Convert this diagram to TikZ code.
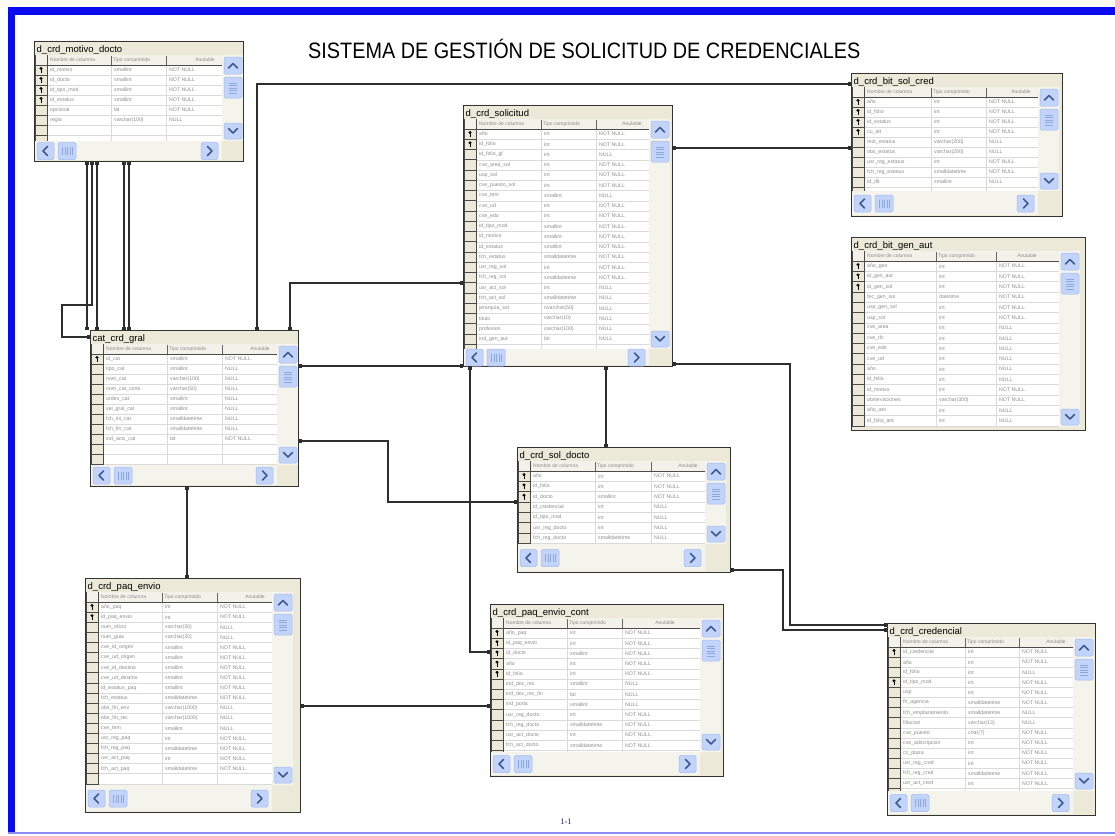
\documentclass[tikz,border=0pt]{standalone}
\usepackage{fontspec}
\setmainfont{Liberation Sans}
\newfontfamily\pagefont{Liberation Serif}
\usepackage{graphicx}
\usetikzlibrary{arrows.meta}
\definecolor{frameblue}{HTML}{0A0AF0}
\definecolor{lineblue}{HTML}{8A8AF5}
\definecolor{cream}{HTML}{FDFCF2}
\definecolor{tblbg}{HTML}{ECE9D8}
\definecolor{hdrfill}{HTML}{F3F2EA}
\definecolor{selfill}{HTML}{ECE9D8}
\definecolor{selcol}{HTML}{4A4A4A}
\definecolor{gridcol}{HTML}{DADADA}
\definecolor{celltxt}{HTML}{8C8C8C}
\definecolor{hdrtxt}{HTML}{8A8A8A}
\definecolor{trackfill}{HTML}{F4F3EC}
\definecolor{btnfill}{HTML}{C3D4FB}
\definecolor{btnline}{HTML}{A3BAEE}
\definecolor{chevcol}{HTML}{3F5A8E}
\definecolor{gripcol}{HTML}{8EA7DD}
\definecolor{conncol}{HTML}{2E2E2E}
\definecolor{pagenum}{HTML}{1C2470}
\tikzset{
 tblframe/.style={draw=black!80, line width=1pt, fill=tblbg, inner sep=0pt, outer sep=0pt},
 ttl/.style={font=\fontsize{9.5}{10}\selectfont, text=black, inner sep=0pt},
 cell/.style={font=\fontsize{5.2}{6}\selectfont, text=celltxt, inner sep=0pt},
 hdr/.style={font=\fontsize{5}{6}\selectfont, text=hdrtxt, inner sep=0pt},
 gridl/.style={draw=gridcol, line width=0.5pt},
 sell/.style={draw=selcol, line width=0.6pt},
 hdrsep/.style={draw=black!60, line width=0.6pt},
 hdrbot/.style={draw=black!70, line width=0.9pt},
 btn/.style={fill=btnfill, draw=btnline, line width=0.5pt, rounded corners=1.5pt},
 chev/.style={draw=chevcol, line width=1.6pt, line cap=round, line join=round},
 grip/.style={draw=gripcol, line width=0.5pt},
 conn/.style={draw=conncol, line width=1.2pt, {Square[length=3.5pt,width=4pt]}-{Square[length=3.5pt,width=4pt]}},
 connl/.style={draw=conncol, line width=1.2pt, {Square[length=3.5pt,width=4pt]}-},
}
\newcommand\keyicon[2]{%
 \fill[black] (#1,#2-1.6) ellipse (1.7 and 1.5);
 \fill[black] (#1-0.5,#2-1) rectangle (#1+0.5,#2+2.8);}
% #1 name, #2 x0, #3 y0, #4 W, #5 H, #6 grid bottom, #7 title, #8 hscroll
\newcommand\dbtable[8]{%
\begin{scope}[shift={(#2,#3)}]
 \node[tblframe, minimum width=#4pt, minimum height=#5pt, anchor=north west] (#1) at (0,0) {};
 \node[ttl, anchor=base west] (#1-title) at (2.5,11) {#7};
 \fill[white] (1,14) rectangle (\cC,#6);
 \begin{scope}
  \clip (1,14) rectangle (\cC,#6);
  \fill[hdrfill] (1,14) rectangle (\cC,24);
  \fill[selfill] (1,24) rectangle (13,#6);
  \pgfmathtruncatemacro\nall{(#6-24)/\rh+1}
  \foreach \j in {1,...,\nall}{
    \draw[gridl] (13,24+\j*\rh) -- (\cC,24+\j*\rh);
    \draw[sell] (1,24+\j*\rh) -- (13,24+\j*\rh);
  }
  \draw[gridl] (\cA,24) -- (\cA,#6) (\cB,24) -- (\cB,#6);
  \draw[sell] (13,14) -- (13,#6);
  \draw[selcol, line width=1pt] (1.5,14) -- (1.5,#6);
  \draw[hdrsep] (\cA,15) -- (\cA,24) (\cB,15) -- (\cB,24);
  \draw[hdrbot] (1,24) -- (\cC,24);
  \foreach \kk/\cn/\ct/\cu [count=\i from 0] in \tblrows {
    \pgfmathsetmacro\ym{24+(\i+0.5)*\rh}
    \node[cell, anchor=west] (#1-\i-n) at (16,\ym) {\cn};
    \node[cell, anchor=west] (#1-\i-t) at (\cA+3,\ym) {\ct};
    \node[cell, anchor=west] (#1-\i-u) at (\cB+3,\ym) {\cu};
    \ifnum\kk=1 \keyicon{7}{\ym}\fi
  }
 \end{scope}
 \node[hdr, anchor=west] (#1-h1) at (16,19) {Nombre de columna};
 \node[hdr, anchor=west] (#1-h2) at (\cA+2,19) {Tipo comprimido};
 \node[hdr] (#1-h3) at (\anx,19) {Anulable};
 \fill[trackfill] (\cC,14) rectangle (\cC+21,#6);
 \path[btn] (\cC+2,16) rectangle (\cC+20,33);
 \draw[chev] (\cC+6.5,27) -- (\cC+11,22.5) -- (\cC+15.5,27);
 \path[btn] (\cC+2,36) rectangle (\cC+20,57);
 \foreach \g in {42,44.5,47,49.5,52}{\draw[grip] (\cC+7,\g) -- (\cC+15,\g);}
 \path[btn] (\cC+2,#6-18) rectangle (\cC+20,#6-2);
 \draw[chev] (\cC+6.5,#6-12.5) -- (\cC+11,#6-8) -- (\cC+15.5,#6-12.5);
 \ifnum#8=1\relax
  \pgfmathsetmacro\hy{(#6+#5)/2}
  \fill[trackfill] (1,#6) rectangle (\cC,#5-1);
  \path[btn] (3,\hy-8.5) rectangle (20,\hy+8.5);
  \draw[chev] (13.5,\hy-4.5) -- (9,\hy) -- (13.5,\hy+4.5);
  \path[btn] (24,\hy-8.5) rectangle (42,\hy+8.5);
  \foreach \g in {28.5,31,33.5,36,38.5}{\draw[grip] (\g,\hy-4) -- (\g,\hy+4);}
  \path[btn] (\cC-21,\hy-8.5) rectangle (\cC-4,\hy+8.5);
  \draw[chev] (\cC-14.5,\hy-4.5) -- (\cC-10,\hy) -- (\cC-14.5,\hy+4.5);
 \fi
\end{scope}}
\begin{document}
\begin{tikzpicture}[x=1pt,y=-1pt]
\useasboundingbox (0,0) rectangle (1115,835);
\fill[white] (0,0) rectangle (1115,835);
\fill[cream] (0,0) rectangle (1115,7);
\fill[frameblue] (8,7) rectangle (1115,15);
\fill[frameblue] (8,7) rectangle (15,832);
\fill[lineblue] (8,832) rectangle (1115,834);

\node[anchor=base west, inner sep=0pt] (title) at (308,58)
 {\resizebox{552pt}{\height}{\fontsize{22.3}{24}\selectfont SISTEMA DE GESTIÓN DE SOLICITUD DE CREDENCIALES}};
\node[inner sep=0pt, text=pagenum, font=\pagefont\fontsize{8.5}{9}\selectfont] (pagelbl) at (566,822) {1-1};

% d_crd_motivo_docto
\def\cA{77}\def\cB{132}\def\cC{188}\def\rh{10}\def\anx{\cC-17}
\def\tblrows{1/id\_motivo/smallint/NOT NULL, 1/id\_docto/smallint/NOT NULL, 1/id\_tipo\_mod/smallint/NOT NULL, 1/id\_estatus/smallint/NOT NULL, 0/opcional/bit/NOT NULL, 0/regla/varchar(100)/NULL}
\dbtable{md}{34}{41}{209}{120}{100}{d\_crd\_motivo\_docto}{1}

% d_crd_solicitud
\def\cA{78}\def\cB{133}\def\cC{186}\def\rh{10.25}\def\anx{\cC-17}
\def\tblrows{1/año/int/NOT NULL, 1/id\_folio/int/NOT NULL, 0/id\_folio\_gf/int/NULL, 0/cve\_area\_sol/int/NOT NULL, 0/usp\_sol/int/NOT NULL, 0/cve\_puesto\_sol/int/NOT NULL, 0/cve\_tem/smallint/NULL, 0/cve\_ud/int/NOT NULL, 0/cve\_edo/int/NOT NULL, 0/id\_tipo\_mod/smallint/NOT NULL, 0/id\_motivo/smallint/NOT NULL, 0/id\_estatus/smallint/NOT NULL, 0/fch\_estatus/smalldatetime/NOT NULL, 0/usr\_reg\_sol/int/NOT NULL, 0/fch\_reg\_sol/smalldatetime/NOT NULL, 0/usr\_act\_sol/int/NULL, 0/fch\_act\_sol/smalldatetime/NULL, 0/jerarquia\_sol/nvarchar(50)/NULL, 0/titulo/varchar(10)/NULL, 0/profesion/varchar(100)/NULL, 0/ind\_gen\_aut/bit/NULL}
\dbtable{sol}{463}{105}{209}{261}{244}{d\_crd\_solicitud}{1}

% d_crd_bit_sol_cred
\def\cA{80}\def\cB{135}\def\cC{187}\def\rh{10}\def\anx{\cC-17}
\def\tblrows{1/año/int/NOT NULL, 1/id\_folio/int/NOT NULL, 1/id\_estatus/int/NOT NULL, 1/cu\_ett/int/NOT NULL, 0/mot\_estatus/varchar(200)/NULL, 0/obs\_estatus/varchar(200)/NULL, 0/usr\_reg\_estatus/int/NOT NULL, 0/fch\_reg\_estatus/smalldatetime/NOT NULL, 0/id\_dlt/smallint/NULL}
\dbtable{bsc}{851}{73}{211}{143}{118}{d\_crd\_bit\_sol\_cred}{1}

% d_crd_bit_gen_aut
\def\cA{85}\def\cB{145}\def\cC{208}\def\rh{10.3}\def\anx{176}
\def\tblrows{1/año\_gen/int/NOT NULL, 1/id\_gen\_aut/int/NOT NULL, 1/id\_gen\_sol/int/NOT NULL, 0/fec\_gen\_sol/datetime/NOT NULL, 0/usp\_gen\_sol/int/NOT NULL, 0/usp\_sol/int/NOT NULL, 0/cve\_area/int/NULL, 0/cve\_rfc/int/NULL, 0/cve\_edo/int/NULL, 0/cve\_ud/int/NULL, 0/año/int/NULL, 0/id\_folio/int/NULL, 0/id\_motivo/int/NOT NULL, 0/observaciones/varchar(300)/NOT NULL, 0/año\_ant/int/NULL, 0/id\_folio\_ant/int/NULL}
\dbtable{bga}{851}{237}{234}{193}{190}{d\_crd\_bit\_gen\_aut}{0}

% cat_crd_gral
\def\cA{77}\def\cB{132}\def\cC{187}\def\rh{10}\def\anx{\cC-17}
\def\tblrows{1/id\_cat/smallint/NOT NULL, 0/tipo\_cat/smallint/NULL, 0/nom\_cat/varchar(100)/NULL, 0/nom\_cat\_corto/varchar(50)/NULL, 0/orden\_cat/smallint/NULL, 0/sel\_gral\_cat/smallint/NULL, 0/fch\_ini\_cat/smalldatetime/NULL, 0/fch\_fin\_cat/smalldatetime/NULL, 0/ind\_actv\_cat/bit/NOT NULL}
\dbtable{cat}{90}{330}{208}{156}{135}{cat\_crd\_gral}{1}

% d_crd_sol_docto
\def\cA{78}\def\cB{134}\def\cC{188}\def\rh{10.3}\def\anx{\cC-17}
\def\tblrows{1/año/int/NOT NULL, 1/id\_folio/int/NOT NULL, 1/id\_docto/smallint/NOT NULL, 0/id\_credencial/int/NULL, 0/id\_tipo\_mod/int/NULL, 0/usr\_reg\_docto/int/NULL, 0/fch\_reg\_docto/smalldatetime/NULL}
\dbtable{sd}{517}{447}{213}{125}{97}{d\_crd\_sol\_docto}{1}

% d_crd_paq_envio
\def\cA{77}\def\cB{132}\def\cC{187}\def\rh{10.1}\def\anx{\cC-17}
\def\tblrows{1/año\_paq/int/NOT NULL, 1/id\_paq\_envio/int/NOT NULL, 0/num\_oficio/varchar(30)/NULL, 0/num\_guia/varchar(30)/NULL, 0/cve\_id\_origen/smallint/NOT NULL, 0/cve\_ud\_origen/smallint/NOT NULL, 0/cve\_id\_destino/smallint/NOT NULL, 0/cve\_ud\_destino/smallint/NOT NULL, 0/id\_estatus\_paq/smallint/NOT NULL, 0/fch\_estatus/smalldatetime/NOT NULL, 0/obs\_fin\_env/varchar(1000)/NULL, 0/obs\_fin\_rec/varchar(1000)/NULL, 0/cve\_tem/smallint/NULL, 0/usr\_reg\_paq/int/NOT NULL, 0/fch\_reg\_paq/smalldatetime/NOT NULL, 0/usr\_act\_paq/int/NOT NULL, 0/fch\_act\_paq/smalldatetime/NOT NULL}
\dbtable{pe}{85}{578}{215}{234}{207}{d\_crd\_paq\_envio}{1}

% d_crd_paq_envio_cont
\def\cA{77}\def\cB{132}\def\cC{210}\def\rh{10.2}\def\anx{175}
\def\tblrows{1/año\_paq/int/NOT NULL, 1/id\_paq\_envio/int/NOT NULL, 1/id\_docto/smallint/NOT NULL, 1/año/int/NOT NULL, 1/id\_folio/int/NOT NULL, 0/ind\_doc\_rec/smallint/NULL, 0/ind\_doc\_rec\_fin/bit/NULL, 0/ind\_porta/smallint/NULL, 0/usr\_reg\_docto/int/NOT NULL, 0/fch\_reg\_docto/smalldatetime/NOT NULL, 0/usr\_act\_docto/int/NOT NULL, 0/fch\_act\_docto/smalldatetime/NOT NULL}
\dbtable{pec}{490}{604}{233}{172}{148}{d\_crd\_paq\_envio\_cont}{1}

% d_crd_credencial
\def\cA{78}\def\cB{132}\def\cC{186}\def\rh{10.1}\def\anx{\cC-17}
\def\tblrows{1/id\_credencial/int/NOT NULL, 0/año/int/NOT NULL, 0/id\_folio/int/NULL, 1/id\_tipo\_mod/int/NOT NULL, 0/usp/int/NOT NULL, 0/fh\_agencia/smalldatetime/NOT NULL, 0/fch\_emplazamiento/smalldatetime/NULL, 0/filiacion/varchar(13)/NULL, 0/cve\_puesto/char(7)/NOT NULL, 0/cve\_adscripcion/int/NOT NULL, 0/cc\_plaza/int/NOT NULL, 0/usr\_reg\_cred/int/NOT NULL, 0/fch\_reg\_cred/smalldatetime/NOT NULL, 0/usr\_act\_cred/int/NOT NULL}
\dbtable{cred}{887}{623}{208}{192}{168}{d\_crd\_credencial}{1}

% connectors
\draw[conn] (87,0 |- md.south) -- (87,0 |- cat.north);
\draw[conn] (97,0 |- md.south) -- (97,0 |- cat.north);
\draw[conn] (124,0 |- md.south) -- (124,0 |- cat.north);
\draw[conn] (129,0 |- md.south) -- (129,0 |- cat.north);
\draw[conn] (92,0 |- md.south) -- (92,305) -- (62,305) -- (62,337) -- (cat.west |- 0,337);
\draw[conn] (257,0 |- cat.north) -- (257,84) -- (bsc.west |- 0,84);
\draw[conn] (sol.east |- 0,148) -- (bsc.west |- 0,148);
\draw[conn] (290,0 |- cat.north) -- (290,283) -- (sol.west |- 0,283);
\draw[conn] (cat.east |- 0,366) -- (sol.west |- 0,366);
\draw[conn] (cat.east |- 0,441) -- (388,441) -- (388,502) -- (sd.west |- 0,502);
\draw[conn] (606,0 |- sol.south) -- (606,0 |- sd.north);
\draw[conn] (470,0 |- sol.south) -- (470,652) -- (pec.west |- 0,652);
\draw[conn] (pe.east |- 0,706) -- (pec.west |- 0,706);
\draw[conn] (187,0 |- cat.south) -- (187,0 |- pe.north);
\draw[conn] (sol.east |- 0,364) -- (790,364) -- (790,625) -- (cred.west |- 0,625);
\draw[conn] (sd.east |- 0,570) -- (783,570) -- (783,630) -- (cred.west |- 0,630);
\end{tikzpicture}
\end{document}
